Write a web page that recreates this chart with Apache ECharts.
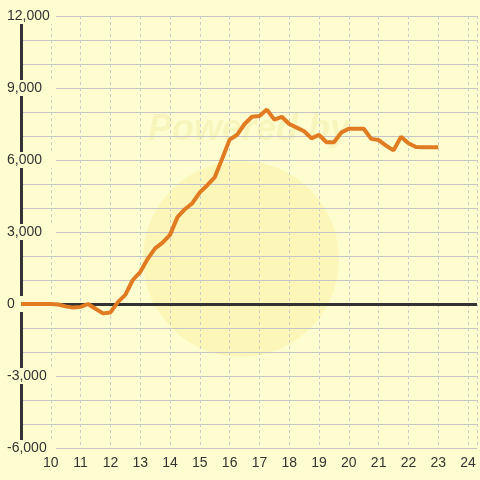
<!DOCTYPE html>
<html>
<head>
<meta charset="utf-8">
<script src="https://cdn.jsdelivr.net/npm/echarts@6/dist/echarts.min.js"></script>
<style>html,body{margin:0;padding:0;background:#fdfdd0}#c{width:480px;height:480px}</style>
</head>
<body>
<div id="c"></div>
<script>
// x positions (years, quarterly) and values
var xs = [9,9.25,9.5,9.75,10,10.25,10.5,10.75,11,11.25,11.5,11.75,12,12.25,12.5,12.75,13,13.25,13.5,13.75,14,14.25,14.5,14.75,15,15.25,15.5,15.75,16,16.25,16.5,16.75,17,17.25,17.5,17.75,18,18.25,18.5,18.75,19,19.25,19.5,19.75,20,20.25,20.5,20.75,21,21.25,21.5,21.75,22,22.25,22.5,22.75,23];
var vals = [0,0,0,0,0,-20,-100,-150,-120,0,-200,-390,-350,80,380,1000,1330,1880,2320,2560,2880,3620,3950,4200,4650,4950,5280,6050,6850,7050,7500,7800,7830,8100,7680,7800,7500,7350,7200,6900,7050,6740,6740,7150,7300,7300,7300,6880,6830,6600,6400,6970,6700,6540,6530,6530,6530];
var xTicks = [10,11,12,13,14,15,16,17,18,19,20,21,22,23,24];
var yTicks = [-6000,-3000,0,3000,6000,9000,12000];

var data = xs.map(function(x,i){return [x, vals[i]];});
var chart = echarts.init(document.getElementById('c'));
var bg = '#fdfdd0';
chart.setOption({
  backgroundColor: bg,
  animation: false,
  grid: {left: 21, right: 0, top: 16, bottom: 32, containLabel: false},
  graphic: [
    {type:'circle', shape:{cx:241, cy:259, r:98}, style:{fill:'rgba(250,225,90,0.2)'}, z:0, silent:true},
    {type:'text', left:148, top:112, style:{text:'Powered by', font:'italic bold 36px "Liberation Sans", Arial', fill:'rgba(230,210,100,0.18)'}, z:0, silent:true}
  ],
  xAxis: {
    type: 'value', min: 9, max: 24.3, interval: 1,
    axisLine: {show: true, lineStyle: {color: '#c4c4c4', width: 1}},
    axisTick: {show: false},
    axisLabel: {
      color: '#333', fontSize: 14, fontFamily: '"Liberation Sans", Arial', margin: 8,
      formatter: function(v){ return xTicks.indexOf(v) >= 0 ? String(v) : ''; }
    },
    splitLine: {show: true, lineStyle: {color: '#cacaca', type: [3,3], width: 1}}
  },
  yAxis: [
    {
      type: 'value', min: -6000, max: 12000, interval: 1000, z: 0,
      axisLine: {show: false}, axisTick: {show: false}, axisLabel: {show: false},
      splitLine: {show: true, lineStyle: {color: '#c4c4c8', width: 1}}
    },
    {
      type: 'value', min: -6000, max: 12000, interval: 3000, position: 'left', z: 1,
      axisLine: {show: true, lineStyle: {color: '#333', width: 3}},
      axisTick: {show: false},
      splitLine: {show: false},
      axisLabel: {
        color: '#333', fontSize: 14, fontFamily: '"Liberation Sans", Arial',
        align: 'left', margin: 14, width: 49, backgroundColor: bg, padding: [1, 0],
        formatter: function(v){ return yTicks.indexOf(v) >= 0 ? v.toLocaleString('en-US') : ''; }
      }
    }
  ],
  series: [{
    type: 'line', data: data, yAxisIndex: 0, showSymbol: false, symbol: 'none',
    lineStyle: {color: '#e07b22', width: 4}, z: 3,
    markLine: {
      silent: true, symbol: 'none', label: {show: false},
      lineStyle: {color: '#333', width: 3, type: 'solid'},
      z: 2,
      data: [{yAxis: 0}]
    }
  }]
});
</script>
</body>
</html>
